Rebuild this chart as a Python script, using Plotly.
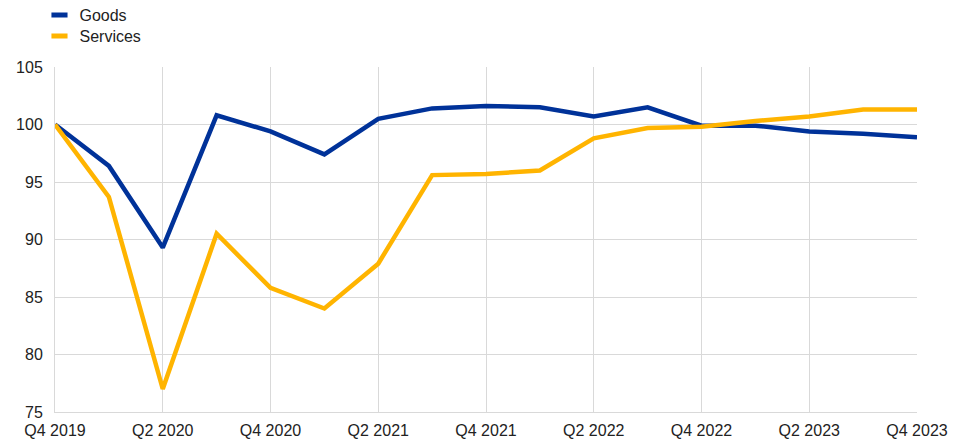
import plotly.graph_objects as go

# ---------------------------------------------------------------------------
# Data (index, Q4 2019 = 100)
# ---------------------------------------------------------------------------
quarters = [
    "Q4 2019", "Q1 2020", "Q2 2020", "Q3 2020", "Q4 2020",
    "Q1 2021", "Q2 2021", "Q3 2021", "Q4 2021",
    "Q1 2022", "Q2 2022", "Q3 2022", "Q4 2022",
    "Q1 2023", "Q2 2023", "Q3 2023", "Q4 2023",
]
goods = [100.0, 96.4, 89.3, 100.8, 99.4, 97.4, 100.5, 101.4, 101.6,
         101.5, 100.7, 101.5, 99.9, 99.9, 99.4, 99.2, 98.9]
services = [100.0, 93.7, 77.0, 90.5, 85.8, 84.0, 87.9, 95.6, 95.7,
            96.0, 98.8, 99.7, 99.8, 100.3, 100.7, 101.3, 101.3]

BLUE = "#003299"
YELLOW = "#FFB400"
GRID = "#d9d9d9"
FONT = dict(family="Arial, Liberation Sans, sans-serif", size=16, color="#222222")

fig = go.Figure()
series = [("Goods", goods, BLUE, "legend"), ("Services", services, YELLOW, "legend2")]
for name, vals, col, leg in series:
    fig.add_trace(go.Scatter(
        x=quarters, y=vals, mode="lines", name=name,
        line=dict(color=col, width=4.5), showlegend=False,
    ))
    # short thick dash for the legend (one legend per item for tighter spacing)
    fig.add_trace(go.Scatter(
        x=[None], y=[None], mode="markers", name=name, legend=leg,
        marker=dict(symbol="line-ew", size=11.5, line=dict(color=col, width=5)),
    ))

_LEGEND = dict(
    x=-0.018, xref="paper", yref="paper",
    xanchor="left", yanchor="top",
    bgcolor="rgba(0,0,0,0)", font=FONT, itemwidth=30,
)

# page body has an 8px margin, so the figure is shifted; margins compensate
fig.update_layout(
    width=963, height=445,
    paper_bgcolor="white", plot_bgcolor="white",
    font=FONT,
    margin=dict(l=47, r=54, t=59, b=41, autoexpand=False),
    legend=dict(_LEGEND, y=1.2),
    legend2=dict(_LEGEND, y=1.139),
    xaxis=dict(
        type="category", range=[0, 16],
        tickmode="array", tickvals=quarters[::2],
        showgrid=True, gridcolor=GRID, gridwidth=1,
        showline=True, linecolor=GRID, linewidth=1,
        ticks="", zeroline=False, ticklabelstandoff=4,
    ),
    yaxis=dict(
        range=[75, 105], dtick=5, tick0=75,
        showgrid=True, gridcolor=GRID, gridwidth=1,
        showline=True, linecolor=GRID, linewidth=1,
        ticks="", zeroline=False, ticklabelstandoff=8,
    ),
)

fig.write_html("out.html")
